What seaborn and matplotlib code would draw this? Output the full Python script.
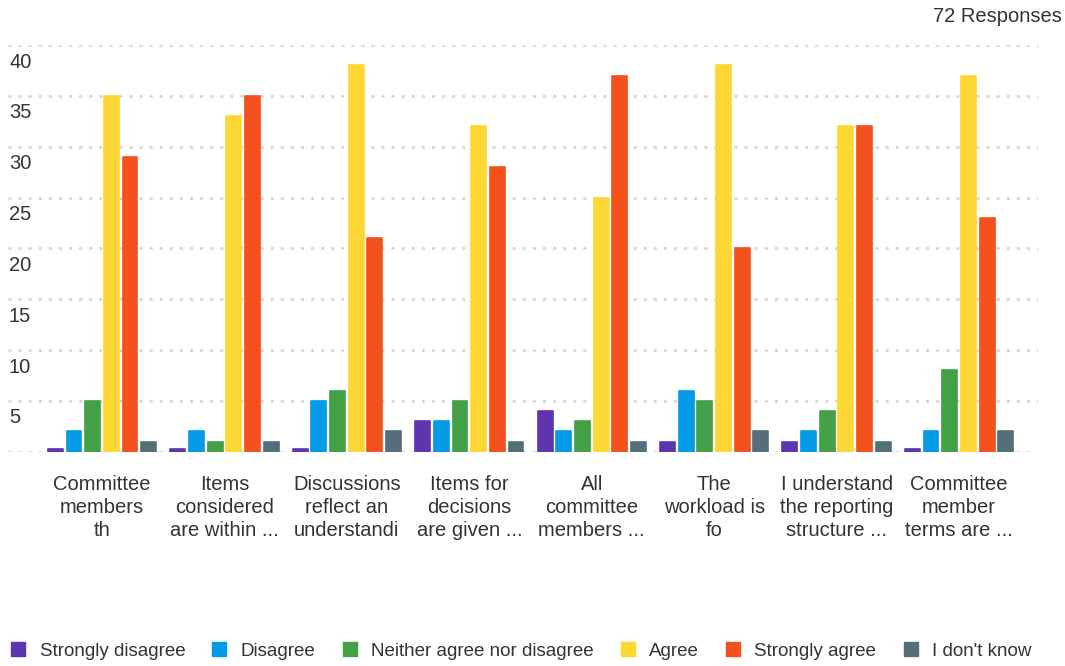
import matplotlib
matplotlib.use("Agg")
import matplotlib.pyplot as plt
from matplotlib.lines import Line2D
import matplotlib.transforms as mtransforms
import seaborn as sns
import pandas as pd

# Survey questions (labels are truncated as displayed)
questions = [
    "Committee\nmembers\nth",
    "Items\nconsidered\nare within ...",
    "Discussions\nreflect an\nunderstandi",
    "Items for\ndecisions\nare given ...",
    "All\ncommittee\nmembers ...",
    "The\nworkload is\nfo",
    "I understand\nthe reporting\nstructure ...",
    "Committee\nmember\nterms are ...",
]
responses = ["Strongly disagree", "Disagree", "Neither agree nor disagree",
             "Agree", "Strongly agree", "I don't know"]

strongly_disagree = [0, 0, 0, 3, 4, 1, 1, 0]
disagree = [2, 2, 5, 3, 2, 6, 2, 2]
neither = [5, 1, 6, 5, 3, 5, 4, 8]
agree = [35, 33, 38, 32, 25, 38, 32, 37]
strongly_agree = [29, 35, 21, 28, 37, 20, 32, 23]
dont_know = [1, 1, 2, 1, 1, 2, 1, 2]
total_responses = 72
y_ticks = [5, 10, 15, 20, 25, 30, 35, 40]

colors = ["#5E35B1", "#039BE5", "#43A047", "#FDD835", "#F4511E", "#546E7A"]

series = [strongly_disagree, disagree, neither, agree, strongly_agree, dont_know]
rows = []
for resp, vals in zip(responses, series):
    for q, v in zip(questions, vals):
        rows.append({"question": q, "response": resp, "count": v})
df = pd.DataFrame(rows)
# zero counts still get a thin stub so the slot is visible
df["shown"] = df["count"].clip(lower=0.3)

sns.set_theme(style="white")
plt.rcParams["font.family"] = ["Liberation Sans", "DejaVu Sans"]

fig = plt.figure(figsize=(10.65, 6.66), dpi=100)
ax = fig.add_axes([8 / 1065, 1 - 451.7 / 666, 1030 / 1065, (451.7 - 45) / 666])

sns.barplot(data=df, x="question", y="shown", hue="response",
            order=questions, hue_order=responses, palette=colors,
            width=0.915, gap=0.2, saturation=1, legend=False, ax=ax, zorder=3)

for patch in ax.patches:
    patch.set_edgecolor(patch.get_facecolor())
    patch.set_linewidth(1.2)
    patch.set_joinstyle("round")

ax.set_xlim(-0.768, 7.645)
ax.set_ylim(0, 40)

# dotted gridlines, including the baseline
for v in [0] + y_ticks:
    ax.axhline(v, color="#d9d9d9", lw=2.2, linestyle=(0, (1.0, 2.3)), zorder=1)

ax.set_yticks([])
ax.set_ylabel("")
ax.set_xlabel("")
for s in ax.spines.values():
    s.set_visible(False)

ax.set_xticks(range(len(questions)))
ax.set_xticklabels(questions, linespacing=1.24, va="top")
ax.tick_params(axis="x", length=0, pad=17, labelsize=14.5, labelcolor="#333333")

# value labels sit just under their gridline
trans = mtransforms.blended_transform_factory(ax.transAxes, ax.transData)
offset = mtransforms.ScaledTranslation(0, -17 / 100, fig.dpi_scale_trans)
for v in y_ticks:
    ax.text(1 / 1030, v, str(v), transform=trans + offset, ha="left",
            va="center", fontsize=14.5, color="#333333")

fig.text(1062 / 1065, 1 - 17 / 666, f"{total_responses} Responses", ha="right",
         va="center", fontsize=14.5, color="#333333")

handles = [Line2D([0], [0], marker="s", linestyle="none", markersize=10.5,
                  markerfacecolor=c, markeredgecolor=c) for c in colors]
fig.legend(handles, responses, loc="center left",
           bbox_to_anchor=(-8 / 1065, 1 - 651 / 666), ncol=6, frameon=False,
           fontsize=13.5, handletextpad=0.64, columnspacing=1.32,
           handlelength=1.0, labelcolor="#333333")

fig.savefig("out.png", dpi=100)
